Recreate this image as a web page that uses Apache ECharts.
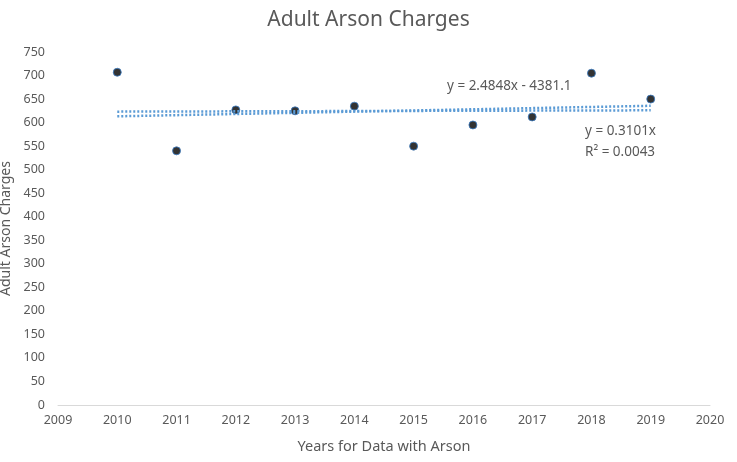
<!DOCTYPE html>
<html>
<head>
<meta charset="utf-8">
<script src="https://cdn.jsdelivr.net/npm/echarts@6/dist/echarts.min.js"></script>
<style>html,body{margin:0;padding:0;background:#fff;}#c{width:737px;height:462px;}</style>
</head>
<body>
<div id="c"></div>
<script>
var years = [2010, 2011, 2012, 2013, 2014, 2015, 2016, 2017, 2018, 2019];
var charges = [707, 540, 627, 625, 635, 550, 595, 612, 705, 650];
var linearTrend = {slope: 2.4848, intercept: -4381.1};
var originTrend = {slope: 0.3101};
var trendLabels = ['y = 2.4848x - 4381.1', 'y = 0.3101x', 'R² = 0.0043'];

var x0 = years[0], x1 = years[years.length - 1];
var lin = [[x0, linearTrend.slope * x0 + linearTrend.intercept], [x1, linearTrend.slope * x1 + linearTrend.intercept]];
var orig = [[x0, originTrend.slope * x0], [x1, originTrend.slope * x1]];

var font = 'Noto Sans';
var grey = '#595959';
var chart = echarts.init(document.getElementById('c'));
chart.setOption({
  animation: false,
  textStyle: {fontFamily: font},
  title: {text: 'Adult Arson Charges', left: 'center', top: 5,
    textStyle: {fontFamily: font, fontSize: 21, fontWeight: 'normal', color: grey}},
  grid: {left: 58, right: 27, top: 52, bottom: 57, containLabel: false, outerBoundsMode: 'none'},
  xAxis: {type: 'value', min: 2009, max: 2020, interval: 1,
    name: 'Years for Data with Arson', nameLocation: 'middle', nameGap: 34,
    nameTextStyle: {fontSize: 14.5, color: grey},
    axisLine: {lineStyle: {color: '#d9d9d9'}}, axisTick: {show: false},
    axisLabel: {color: grey, fontSize: 12.5, margin: 9, formatter: function (v) { return String(v); }},
    splitLine: {show: false}},
  yAxis: {type: 'value', min: 0, max: 750, interval: 50,
    name: 'Adult Arson Charges', nameLocation: 'middle', nameGap: 42,
    nameTextStyle: {fontSize: 14, color: grey},
    axisLine: {show: false}, axisTick: {show: false},
    axisLabel: {color: grey, fontSize: 12.5, margin: 13}, splitLine: {show: false}},
  series: [
    {type: 'line', data: lin, symbol: 'none', silent: true,
      lineStyle: {color: '#5b9bd5', width: 2.5, type: [2, 2]}},
    {type: 'line', data: orig, symbol: 'none', silent: true,
      lineStyle: {color: '#5b9bd5', width: 2.5, type: [2, 2]}},
    {type: 'scatter', data: years.map(function (y, i) { return [y, charges[i]]; }),
      symbolSize: 8, itemStyle: {color: '#000', borderColor: '#3a7cc4', borderWidth: 1}}
  ],
  graphic: [
    {type: 'text', left: 447, top: 79, style: {text: trendLabels[0], fill: grey, fontSize: 13.5, fontFamily: font}},
    {type: 'text', left: 585, top: 124, style: {text: trendLabels[1], fill: grey, fontSize: 13.5, fontFamily: font}},
    {type: 'text', left: 585, top: 145, style: {text: trendLabels[2], fill: grey, fontSize: 13.5, fontFamily: font}}
  ]
});
</script>
</body>
</html>
